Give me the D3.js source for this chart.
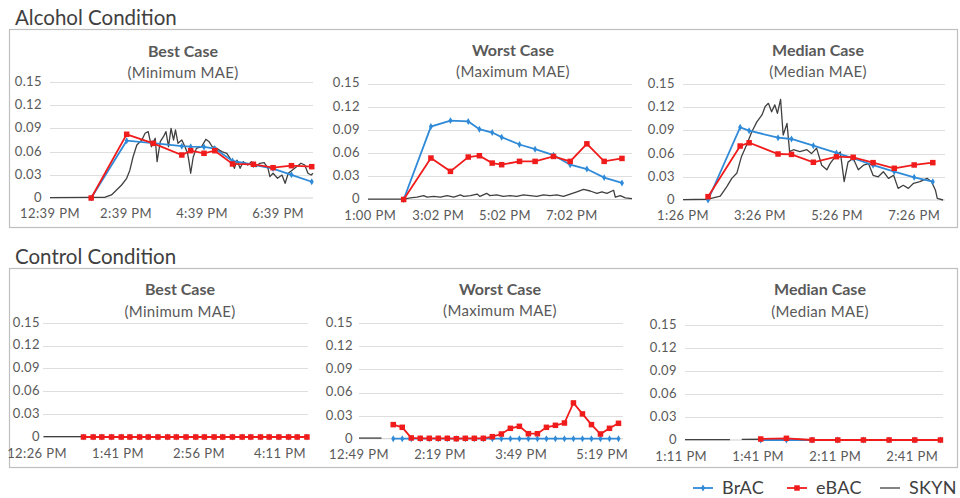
<!DOCTYPE html>
<html><head><meta charset="utf-8">
<script src="https://cdn.jsdelivr.net/npm/d3@7"></script>
<style>
body{margin:0;background:#fff;}
text{font-family:Lato,"Noto Sans",sans-serif;}
</style></head>
<body><svg id="c" width="960" height="498"></svg>
<script>
// ---------------- DATA (minutes after first tick label, value) ----------------
const yTickValues = [0, 0.03, 0.06, 0.09, 0.12, 0.15];
const yTickLabels = ["0", "0.03", "0.06", "0.09", "0.12", "0.15"];

// Alcohol condition – Best case
const alcBestTickMin = [0, 120, 240, 360];
const alcBestTicks = ["12:39 PM", "2:39 PM", "4:39 PM", "6:39 PM"];
const alcBestBrAC = [[65,0],[121,0.0741],[163,0.071],[208,0.067],[222,0.0664],[243,0.066],[260,0.064],[288,0.048],[321,0.043],[352,0.038],[381,0.030],[413,0.021]];
const alcBestEBAC = [[65,0],[121,0.0824],[163,0.0707],[208,0.0556],[222,0.0612],[243,0.0578],[260,0.0612],[288,0.044],[321,0.0436],[352,0.0392],[381,0.0418],[413,0.0405]];
const alcBestSKYN = [[0,0.0005],[60,0.0008],[87,0.001],[97,0.004],[105,0.0103],[113,0.0168],[121,0.0255],[126,0.036],[131,0.053],[137,0.0685],[145,0.075],[150,0.0837],[155,0.0858],[160,0.0663],[166,0.0772],[169,0.047],[174,0.0728],[179,0.0793],[183,0.0858],[187,0.0663],[191,0.090],[195,0.075],[198,0.088],[202,0.0707],[208,0.075],[213,0.0663],[217,0.0578],[219,0.049],[222,0.032],[226,0.053],[231,0.0642],[239,0.0663],[246,0.0759],[251,0.0728],[256,0.0663],[263,0.0642],[271,0.06],[279,0.0578],[286,0.049],[291,0.0384],[295,0.049],[300,0.0384],[305,0.047],[312,0.0427],[318,0.047],[325,0.0405],[331,0.0449],[338,0.0457],[344,0.0384],[347,0.0276],[352,0.032],[359,0.0255],[366,0.0297],[371,0.019],[376,0.032],[382,0.036],[389,0.0405],[396,0.0449],[402,0.0427],[407,0.032],[412,0.0297],[415,0.032]];

// Alcohol condition – Worst case
const alcWorstTickMin = [0, 122, 242, 362];
const alcWorstTicks = ["1:00 PM", "3:02 PM", "5:02 PM", "7:02 PM"];
const alcWorstBrAC = [[60,0],[109,0.0943],[144,0.102],[176,0.101],[196,0.0909],[219,0.0866],[236,0.0806],[268,0.0711],[296,0.065],[329,0.0574],[359,0.045],[389,0.0394],[420,0.0283],[452,0.0214]];
const alcWorstEBAC = [[60,0],[109,0.0536],[144,0.0364],[176,0.0549],[196,0.0566],[219,0.0471],[236,0.045],[268,0.0493],[296,0.0493],[329,0.0557],[359,0.0493],[389,0.072],[420,0.0493],[452,0.0531]];
const alcWorstSKYN = [[-4,0.0005],[60,0.0005],[72,0.002],[84,0.003],[96,0.005],[102,0.003],[114,0.004],[126,0.003],[138,0.005],[150,0.003],[162,0.006],[168,0.004],[180,0.005],[192,0.007],[197,0.004],[209,0.008],[215,0.005],[227,0.006],[239,0.004],[251,0.005],[263,0.004],[275,0.006],[287,0.005],[299,0.004],[311,0.006],[323,0.005],[335,0.006],[347,0.004],[359,0.007],[371,0.010],[383,0.013],[395,0.011],[407,0.008],[416,0.010],[425,0.008],[437,0.012],[440,0.003],[449,0.005],[458,0.002],[470,0.001]];

// Alcohol condition – Median case
const alcMedTickMin = [0, 120, 240, 360];
const alcMedTicks = ["1:26 PM", "3:26 PM", "5:26 PM", "7:26 PM"];
const alcMedBrAC = [[39,0],[89,0.094],[103,0.0896],[148,0.0806],[169,0.0789],[203,0.0702],[239,0.0608],[265,0.054],[296,0.045],[329,0.0366],[360,0.0293],[389,0.0237]];
const alcMedEBAC = [[39,0.0043],[89,0.0698],[103,0.074],[148,0.0595],[169,0.059],[203,0.0488],[239,0.056],[265,0.0552],[296,0.0483],[329,0.041],[360,0.0453],[389,0.0483]];
const alcMedSKYN = [[0,0.0005],[39,0.001],[58,0.005],[68,0.017],[76,0.028],[84,0.035],[91,0.056],[99,0.071],[107,0.088],[115,0.101],[123,0.11],[128,0.121],[133,0.125],[138,0.114],[143,0.123],[147,0.112],[152,0.130],[156,0.084],[162,0.099],[166,0.0625],[172,0.065],[182,0.0625],[193,0.065],[200,0.06],[208,0.067],[216,0.045],[224,0.039],[229,0.047],[237,0.056],[245,0.062],[251,0.0237],[257,0.049],[265,0.054],[273,0.039],[281,0.045],[289,0.047],[296,0.032],[304,0.030],[312,0.0366],[320,0.028],[328,0.032],[335,0.015],[343,0.019],[351,0.015],[359,0.0216],[369,0.0237],[380,0.028],[387,0.0237],[393,0.013],[396,0.002],[405,0]];

// Control condition – Best case
const ctlBestTickMin = [0, 75, 150, 225];
const ctlBestTicks = ["12:26 PM", "1:41 PM", "2:56 PM", "4:11 PM"];
const ctlBestTimes = [43,52,60,69,78,86,95,103,112,121,129,138,147,155,164,172,181,190,198,207,215,224,233,241,250];
const ctlBestBrACv = [0,0,0,0,0,0,0,0,0,0,0,0,0,0,0,0,0,0,0,0,0,0,0,0,0];
const ctlBestEBACv = [0,0,0,0,0,0,0,0,0,0,0,0,0,0,0,0,0,0,0,0,0,0,0,0,0];
const ctlBestSKYN = [[6,0.0005],[43,0.0005],[250,0.0004]];

// Control condition – Worst case
const ctlWorstTickMin = [0, 90, 180, 270];
const ctlWorstTicks = ["12:49 PM", "2:19 PM", "3:49 PM", "5:19 PM"];
const ctlWorstTimes = [38,48,58,68,78,88,98,108,118,128,138,148,158,168,178,188,198,208,218,228,238,248,258,268,278,288];
const ctlWorstBrACv = [0,0,0,0,0,0,0,0,0,0,0,0,0,0,0,0,0,0,0,0,0,0,0,0,0,0];
const ctlWorstEBACv = [0.0183,0.0148,0.001,0.0005,0.0005,0.0005,0.0005,0,0.0005,0.0005,0.0005,0.0026,0.0061,0.0135,0.0161,0.0065,0.0065,0.0148,0.0174,0.0204,0.0465,0.0322,0.0183,0.0061,0.0135,0.020];
const ctlWorstSKYN = [[0,0.0008],[25,0.0008]];

// Control condition – Median case
const ctlMedTickMin = [0, 30, 60, 90];
const ctlMedTicks = ["1:11 PM", "1:41 PM", "2:11 PM", "2:41 PM"];
const ctlMedTimes = [31,41,51,61,71,81,91,101];
const ctlMedBrACv = [0,0,0,0,0,0,0,0];
const ctlMedEBACv = [0.0013,0.0022,0,0,0,0,0,0];
const ctlMedSKYN = [[1.5,0.0004],[19,0.0004],[21,null],[23.6,0.0008],[41,0.0012],[51,0.0005],[102,0.0004]];

const zip = (t, v) => t.map((d, i) => [d, v[i]]);

// ---------------- LAYOUT ----------------
const panels = [
  {title:"Best Case", sub:"(Minimum MAE)", x0:50, x1:313, y0:198, y15:82, dom:[0,415], tm:alcBestTickMin, tl:alcBestTicks, skyn:alcBestSKYN, brac:alcBestBrAC, ebac:alcBestEBAC, yr:42, xly:218, tx:183, ty:57, sy:78},
  {title:"Worst Case", sub:"(Maximum MAE)", x0:368, x1:632, y0:199.5, y15:83.5, dom:[-4,470], tm:alcWorstTickMin, tl:alcWorstTicks, skyn:alcWorstSKYN, brac:alcWorstBrAC, ebac:alcWorstEBAC, yr:360, xly:219.5, tx:513, ty:56, sy:77},
  {title:"Median Case", sub:"(Median MAE)", x0:683, x1:945, y0:200, y15:84, dom:[0,408], tm:alcMedTickMin, tl:alcMedTicks, skyn:alcMedSKYN, brac:alcMedBrAC, ebac:alcMedEBAC, yr:675, xly:220, tx:818, ty:56, sy:77},
  {title:"Best Case", sub:"(Minimum MAE)", x0:43, x1:308, y0:437, y15:322.7, dom:[5.5,251], tm:ctlBestTickMin, tl:ctlBestTicks, skyn:ctlBestSKYN, brac:zip(ctlBestTimes,ctlBestBrACv), ebac:zip(ctlBestTimes,ctlBestEBACv), yr:40, xly:457.5, tx:180, ty:295, sy:317},
  {title:"Worst Case", sub:"(Maximum MAE)", x0:359, x1:623, y0:438.7, y15:323.3, dom:[0,293], tm:ctlWorstTickMin, tl:ctlWorstTicks, skyn:ctlWorstSKYN, brac:zip(ctlWorstTimes,ctlWorstBrACv), ebac:zip(ctlWorstTimes,ctlWorstEBACv), yr:353, xly:459, tx:500, ty:295, sy:316},
  {title:"Median Case", sub:"(Median MAE)", x0:685, x1:943, y0:440, y15:325, dom:[1.5,102], tm:ctlMedTickMin, tl:ctlMedTicks, skyn:ctlMedSKYN, brac:zip(ctlMedTimes,ctlMedBrACv), ebac:zip(ctlMedTimes,ctlMedEBACv), yr:677, xly:460.5, tx:820, ty:295, sy:317}
];

const C = {brac:"#2f8ad8", ebac:"#f01c1c", skyn:"#404040", grid:"#dedede", text:"#595959", box:"#bfbfbf"};
const svg = d3.select("#c");

// section frames & titles
[{t:"Alcohol Condition", ty:25, y:29.5, h:198}, {t:"Control Condition", ty:264, y:268.5, h:199}].forEach(s => {
  svg.append("rect").attr("x",9.5).attr("y",s.y).attr("width",948).attr("height",s.h)
    .attr("fill","none").attr("stroke",C.box).attr("stroke-width",1.2);
  svg.append("text").attr("x",15).attr("y",s.ty).attr("font-size",20.5).attr("fill","#404040").text(s.t);
});

panels.forEach(p => {
  const x = d3.scaleLinear().domain(p.dom).range([p.x0, p.x1]);
  const y = d3.scaleLinear().domain([0, 0.15]).range([p.y0, p.y15]);
  const g = svg.append("g");

  // gridlines + y labels
  yTickValues.forEach((v, i) => {
    if (v > 0) g.append("line").attr("x1",p.x0).attr("x2",p.x1).attr("y1",Math.round(y(v))+0.5).attr("y2",Math.round(y(v))+0.5)
      .attr("stroke",C.grid).attr("stroke-width",1);
    g.append("text").attr("x",p.yr).attr("y",y(v)).attr("dy","0.3em").attr("text-anchor","end")
      .attr("font-size",13).attr("letter-spacing",0.4).attr("fill",C.text).text(yTickLabels[i]);
  });
  // baseline axis
  g.append("line").attr("x1",p.x0).attr("x2",p.x1).attr("y1",y(0)).attr("y2",y(0)).attr("stroke","#d0d0d0").attr("stroke-width",1);

  // x labels
  p.tm.forEach((m, i) => {
    g.append("text").attr("x",x(m)).attr("y",p.xly).attr("text-anchor","middle")
      .attr("font-size",13).attr("letter-spacing",0.4).attr("fill",C.text).text(p.tl[i]);
  });

  // titles
  g.append("text").attr("x",p.tx).attr("y",p.ty).attr("text-anchor","middle").attr("font-size",16)
    .attr("font-weight","bold").attr("fill",C.text).text(p.title);
  g.append("text").attr("x",p.tx).attr("y",p.sy).attr("text-anchor","middle").attr("font-size",15)
    .attr("letter-spacing",0.3).attr("fill",C.text).text(p.sub);

  const line = d3.line().defined(d => d[1] !== null).x(d => x(d[0])).y(d => y(d[1]));

  g.append("path").datum(p.skyn).attr("d",line).attr("fill","none").attr("stroke",C.skyn).attr("stroke-width",1.3).attr("stroke-linejoin","round");
  g.append("path").datum(p.brac).attr("d",line).attr("fill","none").attr("stroke",C.brac).attr("stroke-width",1.8);
  g.selectAll(null).data(p.brac).enter().append("path")
    .attr("d", d3.symbol(d3.symbolDiamond, 14)).attr("transform", d => `translate(${x(d[0])},${y(d[1])})`).attr("fill",C.brac);
  g.append("path").datum(p.ebac).attr("d",line).attr("fill","none").attr("stroke",C.ebac).attr("stroke-width",1.8);
  g.selectAll(null).data(p.ebac).enter().append("rect")
    .attr("x", d => x(d[0]) - 2.75).attr("y", d => y(d[1]) - 2.75).attr("width",5.5).attr("height",5.5).attr("fill",C.ebac);
});

// legend
const legend = [{k:"BrAC", c:C.brac, m:"diamond", x:693}, {k:"eBAC", c:C.ebac, m:"square", x:787}, {k:"SKYN", c:C.skyn, m:"none", x:880}];
legend.forEach(l => {
  const ly = 488;
  svg.append("line").attr("x1",l.x).attr("x2",l.x+20).attr("y1",ly).attr("y2",ly).attr("stroke",l.c).attr("stroke-width", l.m==="none"?1.3:1.8);
  if (l.m === "diamond") svg.append("path").attr("d", d3.symbol(d3.symbolDiamond, 14)).attr("transform",`translate(${l.x+10},${ly})`).attr("fill",l.c);
  if (l.m === "square") svg.append("rect").attr("x",l.x+7.25).attr("y",ly-2.75).attr("width",5.5).attr("height",5.5).attr("fill",l.c);
  svg.append("text").attr("x",l.x+29).attr("y",ly).attr("dy","0.35em").attr("font-size",18).attr("letter-spacing",0.3).attr("fill","#404040").text(l.k);
});
</script></body></html>
